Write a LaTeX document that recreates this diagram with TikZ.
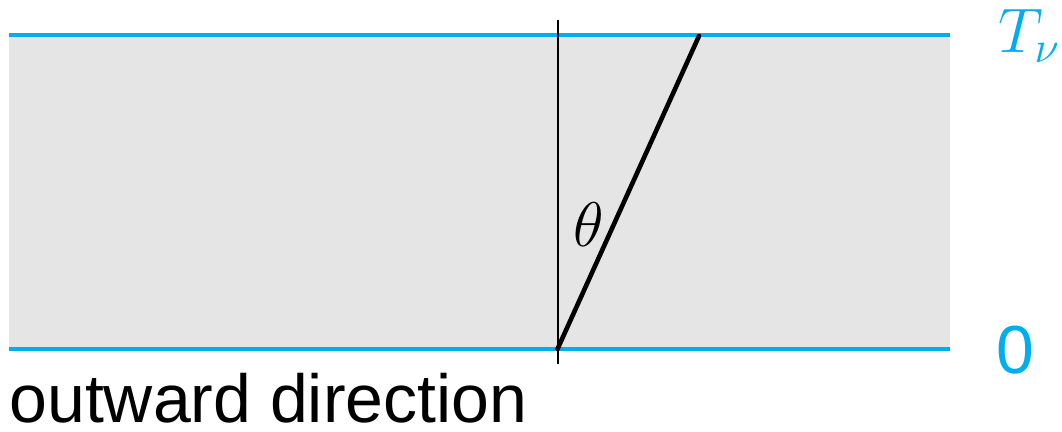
\RequirePackage{fix-cm}
\documentclass[tikz,border=0pt]{standalone}
\usepackage{fontspec}
\setmainfont{Liberation Sans}
\usepackage{amsmath}
\usepackage{xcolor}
\usepackage{tikz}
\usetikzlibrary{positioning, calc}

\definecolor{bandcyan}{RGB}{0,174,239}
\definecolor{bandgray}{RGB}{229,229,229}

\begin{document}
\begin{tikzpicture}[
  x=0.5pt, y=-0.5pt,
  edge/.style={draw=bandcyan, line width=2pt},
  normal/.style={draw=black, line width=1pt},
  ray/.style={draw=black, line width=2.3pt},
  lbl/.style={inner sep=0pt, anchor=base west},
  mlbl/.style={inner sep=0pt, font=\fontsize{31.5}{36}\selectfont},
]
\useasboundingbox (0,0) rectangle (1062,432);

% ---- Slab -------------------------------------------------------------------
\fill[bandgray] (9,35) rectangle (950,349);
\coordinate (topL) at (9,35);
\coordinate (topR) at (950,35);
\coordinate (botL) at (9,349);
\coordinate (botR) at (950,349);
\draw[edge] (topL) -- (topR);
\draw[edge] (botL) -- (botR);

% ---- Normal and ray ---------------------------------------------------------
\coordinate (nup)  at (557.5,20);
\coordinate (ndn)  at (557.5,364);
\coordinate (foot) at (557.5,349);
\coordinate (tip)  at (699,36);
\draw[normal] (nup) -- (ndn);
\draw[ray, line cap=round] (foot) -- (tip);
\node[mlbl] (theta) at (589,225) {$\theta$};

% ---- Labels -----------------------------------------------------------------
\node[lbl, mlbl, anchor=base west, text=bandcyan] (tau) at (998,53) {$T_\nu$};
\node[lbl, text=bandcyan, font=\fontsize{34}{40}\selectfont] (zero) at (996,374) {0};
\node[lbl, font=\fontsize{34}{40}\selectfont] (outw) at (9,423) {outward direction};

\end{tikzpicture}
\end{document}
